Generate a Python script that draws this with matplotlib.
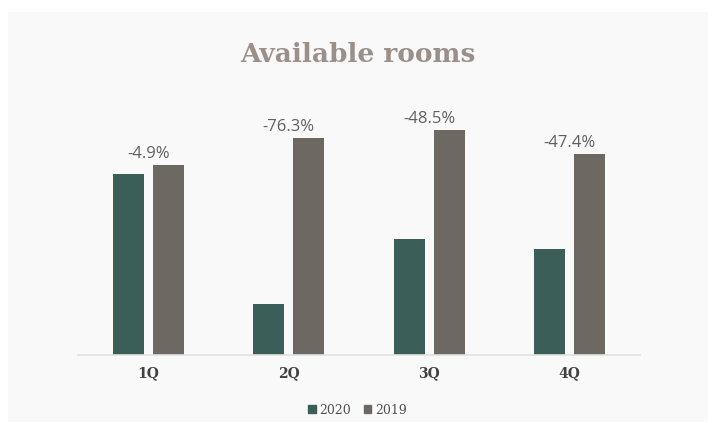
import matplotlib
matplotlib.use('Agg')
import matplotlib.pyplot as plt
from matplotlib.patches import Rectangle, Patch
import numpy as np

BG = '#f9f9f9'
C2020 = '#3b5e59'
C2019 = '#6e6862'
TITLE = '#9b9089'
LABEL = '#606060'

quarters = ['1Q', '2Q', '3Q', '4Q']
rooms_2020 = [181, 51, 116, 106]
rooms_2019 = [190, 217, 225, 201]
changes = ['-4.9%', '-76.3%', '-48.5%', '-47.4%']

W, H = 715, 423
fig = plt.figure(figsize=(W / 100, H / 100), dpi=100, facecolor='white')
fig.patches.append(Rectangle((8 / W, 1 - 422 / H), 700 / W, 410 / H,
                             transform=fig.transFigure, facecolor=BG,
                             edgecolor='none', zorder=-1))

ax = fig.add_axes([78 / W, 1 - 355 / H, 562 / W, 255 / H])
ax.set_facecolor(BG)
ax.patch.set_alpha(0)

x = np.arange(len(quarters))
w = 0.22
off = 0.142
ax.bar(x - off, rooms_2020, w, color=C2020, label='2020', zorder=2)
ax.bar(x + off, rooms_2019, w, color=C2019, label='2019', zorder=2)

for xi, a, b, t in zip(x, rooms_2020, rooms_2019, changes):
    ax.text(xi, max(a, b) + 3, t, ha='center', va='bottom',
            color=LABEL, fontsize=12, family='Open Sans')

ax.set_xlim(-0.5, 3.5)
ax.set_ylim(0, 255)
ax.set_yticks([])
ax.set_xticks(x)
ax.set_xticklabels(quarters, family='DejaVu Serif', fontweight='bold',
                   fontsize=10, color='#404040')
ax.tick_params(axis='x', length=0, pad=8)
for s in ['top', 'right', 'left']:
    ax.spines[s].set_visible(False)
ax.spines['bottom'].set_color('#e2e2e2')
ax.spines['bottom'].set_linewidth(1.2)

fig.text(0.5, 1 - 55 / H, 'Available rooms', ha='center', va='center',
         family='DejaVu Serif', fontweight='bold', fontsize=19, color=TITLE)

handles = [Patch(color=C2020, label='2020'), Patch(color=C2019, label='2019')]
fig.legend(handles=handles, loc='center', bbox_to_anchor=(0.5, 1 - 410 / H),
           ncol=2, frameon=False, prop={'family': 'DejaVu Serif', 'size': 9},
           labelcolor='#505050', handlelength=0.6, handleheight=0.6,
           handletextpad=0.3, columnspacing=1.0)

fig.savefig('out.png', dpi=100, facecolor='white')
